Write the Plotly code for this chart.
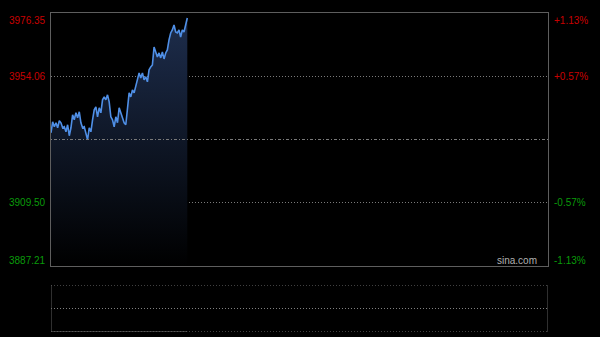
import plotly.graph_objects as go

# ---- data ----
prices = [3934.15, 3938.02, 3936.26, 3937.67, 3935.91, 3938.37, 3937.67, 3935.91, 3936.26, 3934.50,
          3936.97, 3933.10, 3935.91, 3940.48, 3938.72, 3941.19, 3939.43, 3941.54, 3937.67, 3935.91,
          3936.26, 3933.45, 3931.69, 3935.91, 3934.50, 3938.72, 3942.24, 3943.30, 3939.78, 3942.94,
          3941.19, 3945.76, 3946.81, 3945.76, 3947.52, 3945.05, 3939.78, 3938.72, 3936.26, 3939.78,
          3937.67, 3942.94, 3941.19, 3938.72, 3937.67, 3936.97, 3943.30, 3948.22, 3946.81, 3949.27,
          3948.22, 3950.33, 3952.79, 3955.25, 3953.49, 3955.25, 3952.79, 3953.85, 3952.09, 3956.31,
          3957.36, 3958.06, 3964.39, 3962.28, 3960.88, 3962.28, 3960.53, 3962.64, 3960.17, 3962.28,
          3963.34, 3966.86, 3969.32, 3970.37, 3972.13, 3969.67, 3969.32, 3970.37, 3967.91, 3970.37,
          3969.67, 3972.13, 3974.59]
minutes = list(range(len(prices)))
SESSION_SLOTS = 299
PREV_CLOSE = 3931.78
price_ticks = [3976.35, 3954.06, 3909.50, 3887.21]
pct_ticks = ["+1.13%", "+0.57%", "-0.57%", "-1.13%"]
Y_MIN, Y_MAX = 3887.21, 3976.35

RED = "#c80000"
GREEN = "#0a9a0a"
GRID = "#7a7a7a"
BORDER = "#5e5e5e"
FONT = "Liberation Sans, Arial, sans-serif"
FINE_DOT = "1px,2px"

fig = go.Figure()
fig.add_trace(go.Scatter(
    x=minutes, y=prices, mode="lines",
    line=dict(color="#4f8fe6", width=1.6),
    fill="tozeroy",
    fillgradient=dict(type="vertical", start=Y_MIN, stop=Y_MAX,
                      colorscale=[[0, "rgba(0,0,0,1)"], [1, "rgba(30,46,78,1)"]]),
    hoverinfo="skip", xaxis="x", yaxis="y"))

# empty volume panel trace
fig.add_trace(go.Scatter(x=[0], y=[0], mode="markers", marker=dict(opacity=0),
                         xaxis="x2", yaxis="y2", hoverinfo="skip"))

XD = [51 / 600, 548 / 600]
fig.update_layout(
    width=600, height=337,
    margin=dict(l=0, r=0, t=0, b=0),
    paper_bgcolor="black", plot_bgcolor="black",
    showlegend=False,
    xaxis=dict(domain=XD, range=[0, SESSION_SLOTS], showgrid=False, zeroline=False,
               showticklabels=False, showline=True, mirror=True, linecolor=BORDER, linewidth=1,
               ticks=""),
    yaxis=dict(domain=[(337 - 266) / 337, (337 - 13) / 337], range=[Y_MIN, Y_MAX],
               tickvals=[price_ticks[1], price_ticks[2]], showticklabels=False,
               gridcolor=GRID, griddash=FINE_DOT, gridwidth=1, zeroline=False,
               showline=True, mirror=True, linecolor=BORDER, linewidth=1, ticks=""),
    xaxis2=dict(domain=XD, range=[0, SESSION_SLOTS], anchor="y2", showgrid=False,
                zeroline=False, showticklabels=False, ticks=""),
    yaxis2=dict(domain=[(337 - 332) / 337, (337 - 285) / 337], range=[0, 1], anchor="x2",
                showgrid=False, zeroline=False, showticklabels=False, ticks=""),
)

shapes = []
# previous close dash-dot line
shapes.append(dict(type="line", xref="x", yref="y", x0=0, x1=SESSION_SLOTS, y0=PREV_CLOSE, y1=PREV_CLOSE,
                   line=dict(color="#7a7a7a", width=1, dash="1px,2px,3px,2px")))
# volume panel borders
for yv in (0, 0.5, 1):
    shapes.append(dict(type="line", xref="x2", yref="y2", x0=0, x1=SESSION_SLOTS, y0=yv, y1=yv,
                       line=dict(color="#808080", width=1, dash=FINE_DOT)))
shapes.append(dict(type="line", xref="x2", yref="y2", x0=0, x1=len(prices) - 1, y0=0, y1=0,
                   line=dict(color="#707070", width=1)))
for xv in (0, SESSION_SLOTS):
    shapes.append(dict(type="line", xref="x2", yref="y2", x0=xv, x1=xv, y0=0, y1=1,
                       line=dict(color=BORDER, width=1)))
fig.update_layout(shapes=shapes)

ann = []
anchors = ["top", "middle", "middle", "bottom"]
shifts = [0, 0, 0, -2]
colors = [RED, RED, GREEN, GREEN]
for v, p, ya, c, s in zip(price_ticks, pct_ticks, anchors, colors, shifts):
    ann.append(dict(xref="paper", yref="y", x=48 / 600, y=v, text=f"{v:.2f}", showarrow=False,
                    xanchor="right", yanchor=ya, yshift=s, font=dict(family=FONT, size=10, color=c)))
    ann.append(dict(xref="paper", yref="y", x=552 / 600, y=v, text=p, showarrow=False,
                    xanchor="left", yanchor=ya, yshift=s, font=dict(family=FONT, size=10, color=c)))
ann.append(dict(xref="paper", yref="y", x=539 / 600, y=Y_MIN, text="sina.com", showarrow=False,
                xanchor="right", yanchor="bottom", yshift=-2, font=dict(family=FONT, size=10, color="#b0b0b0")))
fig.update_layout(annotations=ann)

fig.write_html("out.html")
